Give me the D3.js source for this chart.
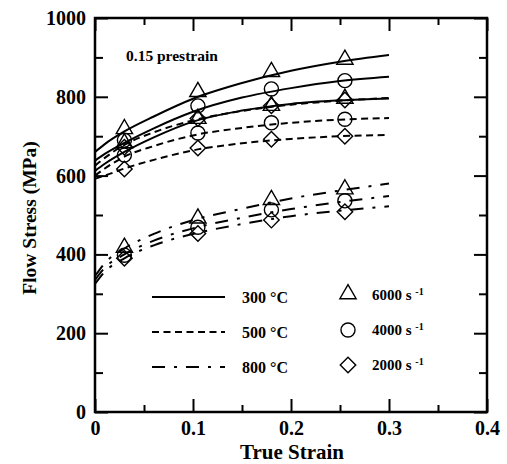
<!DOCTYPE html>
<html>
<head>
<meta charset="utf-8">
<script src="https://cdn.jsdelivr.net/npm/d3@7"></script>
<style>
  body { margin: 0; background: #fff; }
  svg text { font-family: "Liberation Serif", "Times New Roman", serif; font-weight: bold; fill: #000; }
</style>
</head>
<body>
<svg id="chart"></svg>
<script>
const width = 507;
const height = 464;

// x ticks and y ticks
const xMajor = [0, 0.1, 0.2, 0.3, 0.4];
const xLabels = ['0', '0.1', '0.2', '0.3', '0.4'];
const xMinor = [0.05, 0.15, 0.25, 0.35];
const yMajor = [0, 200, 400, 600, 800, 1000];
const yMinor = [100, 300, 500, 700, 900];

// fitted curves (strain -> stress, MPa)
const curveStrain = [0, 0.01, 0.03, 0.06, 0.1, 0.15, 0.2, 0.25, 0.3];
const fit300_6000 = [660, 680, 712, 750, 795, 835, 866, 889, 906];
const fit300_4000 = [638, 655, 683, 720, 762, 798, 822, 840, 851];
const fit300_2000 = [612, 630, 660, 697, 737, 765, 782, 791, 796];
const fit500_6000 = [625, 645, 678, 710, 740, 764, 780, 790, 797];
const fit500_4000 = [600, 618, 648, 675, 702, 721, 734, 742, 746];
const fit500_2000 = [592, 600, 618, 640, 664, 682, 693, 700, 703];
const fit800_6000 = [345, 378, 415, 452, 487, 516, 542, 562, 580];
const fit800_4000 = [335, 366, 400, 435, 466, 493, 515, 533, 548];
const fit800_2000 = [325, 356, 390, 423, 452, 477, 497, 511, 522];

// measured points
const markStrain = [0.03, 0.105, 0.18, 0.255];
const pts300_6000 = [716, 810, 861, 892];
const pts300_4000 = [690, 777, 820, 841];
const pts300_2000 = [672, 745, 777, 792];
const pts500_6000 = [680, 742, 775, 793];
const pts500_4000 = [652, 708, 734, 743];
const pts500_2000 = [617, 670, 692, 700];
const pts800_6000 = [415, 489, 536, 563];
const pts800_4000 = [398, 469, 513, 536];
const pts800_2000 = [390, 453, 487, 508];

const temps = ['300 °C', '500 °C', '800 °C'];
const rates = ['6000', '4000', '2000'];

const dashes = { '300 °C': null, '500 °C': '7,4.5', '800 °C': '13,9,3,9' };
const shapes = { '6000': 'triangle', '4000': 'circle', '2000': 'diamond' };

const series = [
    { temp: '300 °C', rate: '6000', fit: fit300_6000, pts: pts300_6000 },
    { temp: '300 °C', rate: '4000', fit: fit300_4000, pts: pts300_4000 },
    { temp: '300 °C', rate: '2000', fit: fit300_2000, pts: pts300_2000 },
    { temp: '500 °C', rate: '6000', fit: fit500_6000, pts: pts500_6000 },
    { temp: '500 °C', rate: '4000', fit: fit500_4000, pts: pts500_4000 },
    { temp: '500 °C', rate: '2000', fit: fit500_2000, pts: pts500_2000 },
    { temp: '800 °C', rate: '6000', fit: fit800_6000, pts: pts800_6000 },
    { temp: '800 °C', rate: '4000', fit: fit800_4000, pts: pts800_4000 },
    { temp: '800 °C', rate: '2000', fit: fit800_2000, pts: pts800_2000 }
];

const plot = { left: 95, right: 487, top: 18, bottom: 412 };

const svg = d3.select('#chart')
    .attr('width', width).attr('height', height);

const x = d3.scaleLinear().domain([0, 0.4]).range([plot.left, plot.right]);
const y = d3.scaleLinear().domain([0, 1000]).range([plot.bottom, plot.top]);

function styleAxis(g) {
    g.select('.domain').remove();
    g.selectAll('line').attr('stroke', '#000').attr('stroke-width', 2);
    g.selectAll('text').style('font-size', '20px').attr('fill', '#000');
}

// bottom axis
svg.append('g').attr('transform', `translate(0,${plot.bottom})`)
    .call(d3.axisBottom(x).tickValues(xMajor).tickSize(-13).tickPadding(9)
        .tickFormat((d, i) => xLabels[i]))
    .call(styleAxis);
svg.append('g').attr('transform', `translate(0,${plot.bottom})`)
    .call(d3.axisBottom(x).tickValues(xMinor).tickSize(-7).tickFormat(''))
    .call(styleAxis);
// top axis
svg.append('g').attr('transform', `translate(0,${plot.top})`)
    .call(d3.axisTop(x).tickValues(xMajor).tickSize(-13).tickFormat(''))
    .call(styleAxis);
svg.append('g').attr('transform', `translate(0,${plot.top})`)
    .call(d3.axisTop(x).tickValues(xMinor).tickSize(-7).tickFormat(''))
    .call(styleAxis);
// left axis
svg.append('g').attr('transform', `translate(${plot.left},0)`)
    .call(d3.axisLeft(y).tickValues(yMajor).tickSize(-13).tickPadding(9)
        .tickFormat(d3.format('d')))
    .call(styleAxis);
svg.append('g').attr('transform', `translate(${plot.left},0)`)
    .call(d3.axisLeft(y).tickValues(yMinor).tickSize(-8).tickFormat(''))
    .call(styleAxis);
// right axis
svg.append('g').attr('transform', `translate(${plot.right},0)`)
    .call(d3.axisRight(y).tickValues(yMajor).tickSize(-13).tickFormat(''))
    .call(styleAxis);
svg.append('g').attr('transform', `translate(${plot.right},0)`)
    .call(d3.axisRight(y).tickValues(yMinor).tickSize(-8).tickFormat(''))
    .call(styleAxis);

svg.append('rect')
    .attr('x', plot.left).attr('y', plot.top)
    .attr('width', plot.right - plot.left).attr('height', plot.bottom - plot.top)
    .attr('fill', 'none').attr('stroke', '#000').attr('stroke-width', 2.5);

// axis titles
svg.append('text')
    .attr('x', (plot.left + plot.right) / 2 + 1).attr('y', 459)
    .attr('text-anchor', 'middle').style('font-size', '21px')
    .text('True Strain');
svg.append('text')
    .attr('transform', `translate(36,218) rotate(-90)`)
    .attr('text-anchor', 'middle').style('font-size', '19.5px')
    .text('Flow Stress (MPa)');

svg.append('text')
    .attr('x', 126).attr('y', 61)
    .style('font-size', '15.5px')
    .text('0.15 prestrain');

const line = d3.line()
    .x((d, i) => x(curveStrain[i]))
    .y(d => y(d))
    .curve(d3.curveMonotoneX);

svg.append('g').selectAll('path')
    .data(series)
    .join('path')
    .attr('d', d => line(d.fit))
    .attr('fill', 'none')
    .attr('stroke', '#000')
    .attr('stroke-width', 2)
    .attr('stroke-dasharray', d => dashes[d.temp]);

const symbolSize = { triangle: 115, circle: 155, diamond: 120 };
const symbolType = { triangle: d3.symbolTriangle, circle: d3.symbolCircle, diamond: d3.symbolSquare };

function markerPath(shape) {
    return d3.symbol().type(symbolType[shape]).size(symbolSize[shape])();
}

function drawMarker(g, shape, cx, cy) {
    const rot = shape === 'diamond' ? ' rotate(45)' : '';
    const dy = shape === 'triangle' ? -1 : 0;
    g.append('path')
        .attr('d', markerPath(shape))
        .attr('transform', `translate(${cx},${cy + dy})${rot}`)
        .attr('fill', 'none')
        .attr('stroke', '#000')
        .attr('stroke-width', 1.4);
}

const markers = svg.append('g');
series.forEach(s => {
    s.pts.forEach((v, i) => drawMarker(markers, shapes[s.rate], x(markStrain[i]), y(v)));
});

// legend
const legend = svg.append('g');
const legendRows = [297, 332, 367];
temps.forEach((t, i) => {
    legend.append('line')
        .attr('x1', 152).attr('x2', 225)
        .attr('y1', legendRows[i]).attr('y2', legendRows[i])
        .attr('stroke', '#000').attr('stroke-width', 2)
        .attr('stroke-dasharray', dashes[t]);
    legend.append('text')
        .attr('x', 242).attr('y', legendRows[i] + 6)
        .style('font-size', '16px')
        .text(t);
});
rates.forEach((r, i) => {
    drawMarker(legend, shapes[r], 348, legendRows[i] - 2);
    const txt = legend.append('text')
        .attr('x', 372).attr('y', legendRows[i] + 3)
        .style('font-size', '15px');
    txt.append('tspan').text(r + ' s ');
    txt.append('tspan').attr('dy', -5).style('font-size', '10px').text('-1');
});
</script>
</body>
</html>
